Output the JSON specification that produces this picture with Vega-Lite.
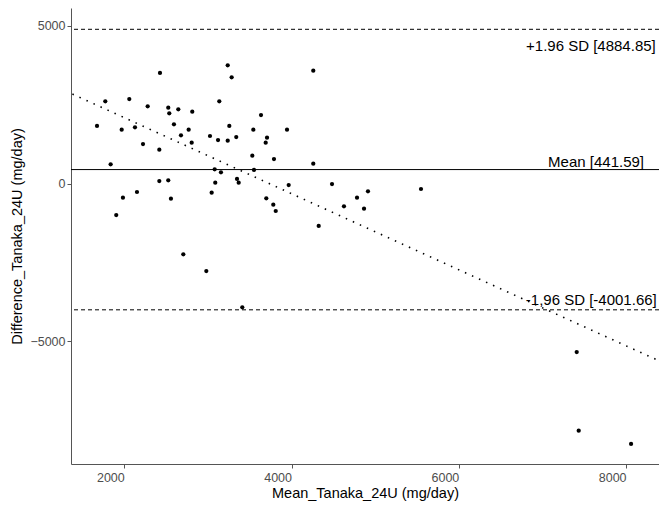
{
  "$schema": "https://vega.github.io/schema/vega-lite/v6.json",
  "width": 588,
  "height": 456,
  "autosize": "none",
  "padding": {"left": 71, "top": 8, "right": 0, "bottom": 44},
  "background": "white",
  "config": {
    "view": {"stroke": null},
    "font": "Liberation Sans",
    "axis": {
      "grid": false,
      "domainColor": "#555555",
      "tickColor": "#555555",
      "tickSize": 4,
      "labelColor": "#4d4d4d",
      "labelFontSize": 12.5,
      "labelFont": "Liberation Sans",
      "titleFont": "Liberation Sans",
      "titleFontSize": 14.5,
      "titleFontWeight": "normal",
      "titleColor": "black",
      "labelPadding": 2
    }
  },
  "datasets": {
    "pts": [
      {"m": 2427, "d": 3501}, {"m": 3237, "d": 3745}, {"m": 3284, "d": 3364}, {"m": 4260, "d": 3573},
      {"m": 1773, "d": 2604}, {"m": 2060, "d": 2677}, {"m": 2280, "d": 2446}, {"m": 2526, "d": 2401},
      {"m": 2538, "d": 2224}, {"m": 2646, "d": 2351}, {"m": 2813, "d": 2275}, {"m": 3136, "d": 2604},
      {"m": 3635, "d": 2170}, {"m": 1674, "d": 1822}, {"m": 1969, "d": 1704}, {"m": 2128, "d": 1780},
      {"m": 2594, "d": 1875}, {"m": 2770, "d": 1704}, {"m": 2678, "d": 1527}, {"m": 2806, "d": 1293},
      {"m": 2224, "d": 1251}, {"m": 2419, "d": 1071}, {"m": 3025, "d": 1505}, {"m": 3121, "d": 1378},
      {"m": 3237, "d": 1356}, {"m": 3256, "d": 1822}, {"m": 3339, "d": 1473}, {"m": 3543, "d": 1704},
      {"m": 3707, "d": 1451}, {"m": 3691, "d": 1293}, {"m": 3946, "d": 1704}, {"m": 3531, "d": 881},
      {"m": 3790, "d": 776}, {"m": 1837, "d": 608}, {"m": 4260, "d": 627}, {"m": 3081, "d": 450},
      {"m": 3156, "d": 355}, {"m": 3551, "d": 428}, {"m": 3348, "d": 143}, {"m": 3368, "d": 25},
      {"m": 3088, "d": 25}, {"m": 2419, "d": 79}, {"m": 2526, "d": 101}, {"m": 3966, "d": -48},
      {"m": 4484, "d": -16}, {"m": 2152, "d": -269}, {"m": 3045, "d": -291}, {"m": 1984, "d": -450},
      {"m": 2558, "d": -482}, {"m": 3698, "d": -469}, {"m": 4783, "d": -450}, {"m": 3782, "d": -672},
      {"m": 4627, "d": -722}, {"m": 3811, "d": -871}, {"m": 1904, "d": -998}, {"m": 4325, "d": -1346},
      {"m": 4914, "d": -247}, {"m": 4867, "d": -798}, {"m": 5548, "d": -174}, {"m": 2706, "d": -2243},
      {"m": 2981, "d": -2772}, {"m": 3411, "d": -3922}, {"m": 7410, "d": -5338}, {"m": 7434, "d": -7831},
      {"m": 8060, "d": -8252}
    ],
    "limits": [
      {"name": "upper", "value": 4884.85, "kind": "sd"},
      {"name": "mean", "value": 441.59, "kind": "mean"},
      {"name": "lower", "value": -4001.66, "kind": "sd"}
    ],
    "trend": [
      {"m": 1380, "d": 2833},
      {"m": 8394, "d": -5616}
    ],
    "labels": [
      {"m": 8355, "d": 4198, "label": "+1.96 SD [4884.85]"},
      {"m": 8215, "d": 532, "label": "Mean [441.59]"},
      {"m": 8367, "d": -3849, "label": "-1,96 SD [-4001.66]"}
    ]
  },
  "layer": [
    {
      "data": {"name": "limits"},
      "transform": [{"filter": "datum.kind == 'sd'"}],
      "mark": {"type": "rule", "color": "black", "strokeWidth": 1, "strokeDash": [4, 3]},
      "encoding": {
        "y": {"field": "value", "type": "quantitative", "scale": {"domain": [-8886, 5560], "nice": false, "zero": false}}
      }
    },
    {
      "data": {"name": "limits"},
      "transform": [{"filter": "datum.kind == 'mean'"}],
      "mark": {"type": "rule", "color": "black", "strokeWidth": 1},
      "encoding": {
        "y": {"field": "value", "type": "quantitative"}
      }
    },
    {
      "data": {"name": "trend"},
      "mark": {"type": "line", "color": "black", "strokeWidth": 1.6, "strokeDash": [1.5, 6.2], "clip": true},
      "encoding": {
        "x": {"field": "m", "type": "quantitative"},
        "y": {"field": "d", "type": "quantitative"}
      }
    },
    {
      "data": {"name": "pts"},
      "mark": {"type": "circle", "color": "black", "opacity": 1, "size": 18},
      "encoding": {
        "x": {
          "field": "m", "type": "quantitative",
          "scale": {"domain": [1363, 8394], "nice": false, "zero": false},
          "axis": {"title": "Mean_Tanaka_24U (mg/day)", "values": [2000, 4000, 6000, 8000], "format": "d", "labelAlign": "right", "labelPadding": 3, "titlePadding": 3}
        },
        "y": {
          "field": "d", "type": "quantitative",
          "scale": {"domain": [-8886, 5560], "nice": false, "zero": false},
          "axis": {"title": "Difference_Tanaka_24U (mg/day)", "values": [-5000, 0, 5000], "format": "d", "titlePadding": 5}
        }
      }
    },
    {
      "data": {"name": "labels"},
      "mark": {"type": "text", "align": "right", "baseline": "alphabetic", "fontSize": 15, "font": "Liberation Sans", "color": "black"},
      "encoding": {
        "x": {"field": "m", "type": "quantitative"},
        "y": {"field": "d", "type": "quantitative"},
        "text": {"field": "label"}
      }
    }
  ]
}
